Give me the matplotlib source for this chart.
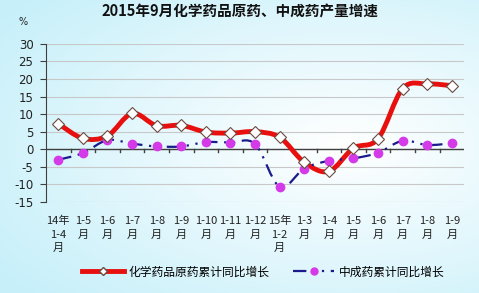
import numpy as np
import matplotlib
matplotlib.use("Agg")
import matplotlib.pyplot as plt
from matplotlib.path import Path
from matplotlib.patches import PathPatch
from matplotlib.lines import Line2D

plt.rcParams['font.family'] = ['Noto Sans CJK SC', 'DejaVu Sans']

# 数据
categories = ["14年\n1-4\n月", "1-5\n月", "1-6\n月", "1-7\n月", "1-8\n月", "1-9\n月",
              "1-10\n月", "1-11\n月", "1-12\n月", "15年\n1-2\n月", "1-3\n月", "1-4\n月",
              "1-5\n月", "1-6\n月", "1-7\n月", "1-8\n月", "1-9\n月"]
chem = [7.3, 3.1, 3.8, 10.2, 6.7, 6.8, 4.9, 4.6, 5.0, 3.4, -3.7, -6.3,
        0.3, 3.0, 17.3, 18.6, 18.1]
tcm = [-3.0, -1.1, 2.6, 1.6, 0.8, 0.8, 2.0, 1.9, 1.5, -10.7, -5.5, -3.3,
       -2.6, -1.0, 2.4, 1.2, 1.7]
yticks = list(range(-15, 31, 5))
title = "2015年9月化学药品原药、中成药产量增速"
label_chem = "化学药品原药累计同比增长"
label_tcm = "中成药累计同比增长"


def smooth_path(x, y, t=0.5):
    # Catmull-Rom 转三次贝塞尔，仅用于画平滑线
    x = np.asarray(x, float)
    y = np.asarray(y, float)
    verts = [(x[0], y[0])]
    codes = [Path.MOVETO]
    n = len(x)
    for i in range(n - 1):
        i0 = max(i - 1, 0)
        i3 = min(i + 2, n - 1)
        c1 = (x[i] + (x[i + 1] - x[i0]) * t / 3, y[i] + (y[i + 1] - y[i0]) * t / 3)
        c2 = (x[i + 1] - (x[i3] - x[i]) * t / 3, y[i + 1] - (y[i3] - y[i]) * t / 3)
        verts += [c1, c2, (x[i + 1], y[i + 1])]
        codes += [Path.CURVE4] * 3
    return Path(verts, codes)


fig = plt.figure(figsize=(4.79, 2.93), dpi=100)

# 背景渐变
bg = fig.add_axes([0, 0, 1, 1], zorder=-5)
yy, xx = np.mgrid[0:1:200j, 0:1:300j]
d = np.sqrt(((xx - 0.72) / 0.9) ** 2 + ((yy - 0.5) / 0.75) ** 2)
d = np.clip(d, 0, 1)
c0 = np.array([1.0, 1.0, 1.0])
c1 = np.array([0.78, 0.94, 0.98])
img = c0[None, None, :] * (1 - d[..., None]) + c1[None, None, :] * d[..., None]
bg.imshow(img, aspect='auto', extent=[0, 1, 0, 1], origin='upper')
bg.axis('off')

ax = fig.add_axes([0.096, 0.311, 0.873, 0.539])
ax.set_facecolor('none')
x = np.arange(len(categories))
ax.set_xlim(-0.5, len(categories) - 0.5)
ax.set_ylim(-15, 30)
ax.set_yticks(yticks)
ax.set_yticklabels([str(v) for v in yticks], fontsize=8.5, family='DejaVu Sans')
for v in yticks:
    ax.axhline(v, color='#c8c8c8', lw=0.8, zorder=1)
ax.axhline(0, color='#404040', lw=1.0, zorder=2)
for b in np.arange(0.5, len(categories) - 0.5, 1):
    ax.plot([b, b], [0, -0.9], color='#404040', lw=1.0, zorder=2, clip_on=False)
for s in ['top', 'right', 'bottom']:
    ax.spines[s].set_visible(False)
ax.spines['left'].set_color('#404040')
ax.tick_params(axis='y', length=4, color='#404040', pad=5, labelcolor='#222222')
ax.tick_params(axis='x', length=0)
ax.set_xticks(x)
ax.set_xticklabels(categories, fontsize=8, linespacing=1.45, color='#222222')
ax.tick_params(axis='x', pad=10)

ax.add_patch(PathPatch(smooth_path(x, chem), facecolor='none', edgecolor='#e8100e',
                       lw=3.5, zorder=3, capstyle='round', joinstyle='round'))
ax.plot(x, chem, linestyle='none', marker='D', markersize=6.5, markerfacecolor='white',
        markeredgecolor='#6a4a40', markeredgewidth=0.8, zorder=5)

ax.add_patch(PathPatch(smooth_path(x, tcm), facecolor='none', edgecolor='#1a1a8c',
                       lw=1.6, zorder=3, linestyle=(0, (6, 3, 1, 3, 1, 3))))
ax.plot(x, tcm, linestyle='none', marker='o', markersize=6, markerfacecolor='#d43ae8',
        markeredgecolor='#d43ae8', zorder=4)

fig.text(0.5, 0.962, title, ha='center', va='center', fontsize=10.5, fontweight='bold',
         color='#111111')
fig.text(0.048, 0.925, "%", ha='center', va='center', fontsize=7, family='DejaVu Sans',
         color='#222222')

handles = [Line2D([0], [0], color='#e8100e', lw=3.5, marker='D', markersize=4,
                  markerfacecolor='white', markeredgecolor='#6a4a40'),
           Line2D([0], [0], color='#1a1a8c', lw=1.6, linestyle=(0, (6, 3, 1, 3, 1, 3)),
                  marker='o', markersize=5, markerfacecolor='#d43ae8',
                  markeredgecolor='#d43ae8')]
fig.legend(handles, [label_chem, label_tcm], loc='center', bbox_to_anchor=(0.55, 0.072),
           ncol=2, frameon=False, fontsize=8.5, handlelength=3.5, columnspacing=2.0,
           handletextpad=0.4)

fig.savefig("out.png", dpi=100)
